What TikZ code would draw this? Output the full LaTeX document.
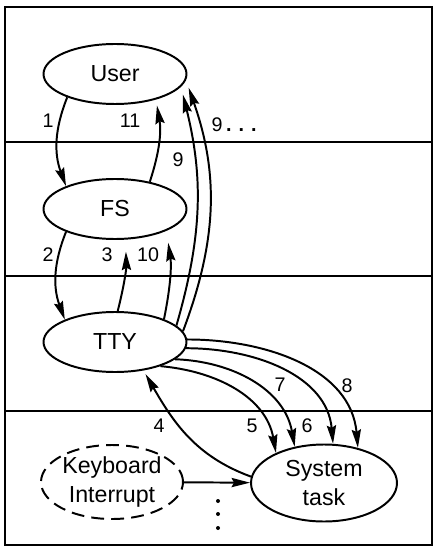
\documentclass[tikz,border=0pt]{standalone}
\usepackage{fontspec}
\setmainfont{Liberation Sans}
\usetikzlibrary{arrows.meta,shapes.geometric}

\begin{document}
\begin{tikzpicture}[x=0.25mm, y=-0.25mm, line width=1.4pt,
        proc/.style={ellipse, draw, inner sep=0pt, minimum width=35.75mm, minimum height=15mm,
            align=center, font=\fontsize{16.5}{20}\selectfont},
        num/.style={font=\fontsize{14}{16}\selectfont},
        msg/.style={-{Stealth[length=4.6mm, width=2.3mm, inset=0.6mm]}}]
        % Frame(layers)
        \useasboundingbox (0,0) rectangle (438,551);
        \draw (5,7) rectangle (432,545);
        \draw (5,142) -- (432,142);
        \draw (5,276) -- (432,276);
        \draw (5,411) -- (432,411);

        % Processes
        \node[proc] (user) at (115,74) {User};
        \node[proc] (fs) at (115,209) {FS};
        \node[proc] (tty) at (115,342) {TTY};
        \node[proc, dash pattern=on 3.2mm off 1.8mm, minimum width=35.5mm, minimum height=18.5mm] (kbd) at (112,482) {Keyboard\\Interrupt};
        \node[proc, minimum width=36.5mm, minimum height=19.25mm] (sys) at (324,483) {System\\task};

        % Messages
        \draw[msg] (user.206) to[bend right=21] (fs.155);
        \draw[msg, shorten >=1.5mm] (fs.38) to[bend right=14] (user.328);
        \draw[msg] (fs.205) to[bend right=21] (tty.156);
        \draw[msg, shorten >=3mm] (tty.85) to[bend right=8] (fs.289);
        \draw[msg, shorten >=3mm] (tty.25) to[bend right=10] (fs.337);
        \draw[msg, shorten >=2mm] (tty.15) to[bend right=15] (user.349);
        \draw[msg, shorten >=2mm] (tty.9) to[bend right=20] (user.355);
        \draw[msg] (tty.332) to[out=-5, in=100] (sys.148);
        \draw[msg] (tty.344) to[out=-2, in=100] (sys.129);
        \draw[msg] (tty.355) to[out=0, in=95] (sys.77);
        \draw[msg] (tty.2) to[out=0, in=95] (sys.46);
        \draw[msg, shorten >=1mm] (sys.175) to[out=160, in=-60] (tty.315);
        \draw[msg] (kbd) -- (sys);
        \foreach \y in {501,514,528}
            \fill (218,\y) circle (0.5mm);

        % Labels
        \node[num] (n1) at (48,121) {1};
        \node[num] (n11) at (130,121) {11};
        \node[num] (n9a) at (234,125) {9\hspace{2.5pt}\textbf{.}\hspace{5pt}\textbf{.}\hspace{5pt}\textbf{.}};
        \node[num] (n9) at (178,160) {9};
        \node[num] (n2) at (48,255) {2};
        \node[num] (n3) at (107,255) {3};
        \node[num] (n10) at (148,255) {10};
        \node[num] (n7) at (280,385) {7};
        \node[num] (n8) at (347,386) {8};
        \node[num] (n4) at (159,426) {4};
        \node[num] (n5) at (252,426) {5};
        \node[num] (n6) at (307,426) {6};
\end{tikzpicture}
\end{document}
